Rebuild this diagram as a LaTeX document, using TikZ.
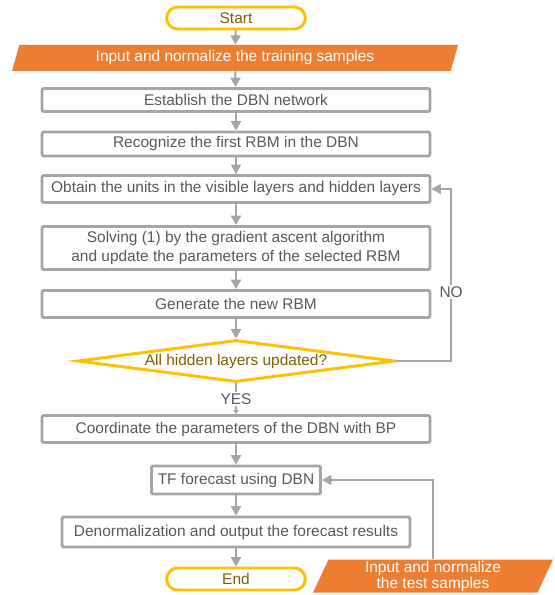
\documentclass[tikz,border=0pt]{standalone}
\usepackage{fontspec}
\setmainfont{Liberation Sans}
\usetikzlibrary{shapes.geometric,shapes.misc,arrows.meta}
\definecolor{linegray}{HTML}{A5A5A5}
\definecolor{textgray}{HTML}{595959}
\definecolor{ioorange}{HTML}{ED7D31}
\definecolor{termgold}{HTML}{FFC000}
\definecolor{textgold}{HTML}{7F6000}
\begin{document}
\begin{tikzpicture}[x=0.75pt, y=-0.75pt, font=\fontsize{11.6}{14}\selectfont]
	\tikzstyle{term}=[rounded rectangle, draw=termgold, line width=2.2pt, fill=white, text=textgold, minimum width=104pt, minimum height=16.5pt, inner sep=0pt]
	\tikzstyle{process}=[rectangle, rounded corners=1.5pt, draw=linegray, line width=2.2pt, fill=white, text=textgray, minimum width=291pt, inner sep=0pt, align=center]
	\tikzstyle{io}=[trapezium, trapezium left angle=63, trapezium right angle=117, trapezium stretches body, fill=ioorange, text=white, inner sep=0pt, align=center]
	\tikzstyle{decision}=[diamond, aspect=7.5, draw=termgold, line width=2.2pt, fill=white, text=textgold, minimum width=238pt, minimum height=31.5pt, inner sep=0pt]
	\tikzstyle{flow}=[draw=linegray, line width=1.5pt, -{Triangle[length=7pt, width=7.5pt]}]
	\tikzstyle{loop}=[draw=linegray, line width=1pt, -{Triangle[length=7pt, width=7.5pt]}]
	\useasboundingbox (0,0) rectangle (554,595);
	% Start
	\node at (236, 18) [term] (start) {Start};
	% Training input
	\node at (235, 58) [io, minimum width=334.5pt, minimum height=19.5pt] (input) {Input and normalize the training samples};
	% Pre-training
	\node at (236, 100) [process, minimum height=17.25pt] (establish) {Establish the DBN network};
	\node at (236, 144) [process, minimum height=18pt] (recognize) {Recognize the first RBM in the DBN};
	\node at (236, 189) [process, minimum height=20.25pt] (obtain) {Obtain the units in the visible layers and hidden layers};
	\node at (236, 248) [process, minimum height=32.25pt] (solving) {Solving (1) by the gradient ascent algorithm\\and update the parameters of the selected RBM};
	\node at (236, 304) [process, minimum height=20.25pt] (generate) {Generate the new RBM};
	\node at (236, 361) [decision] (updated) {All hidden layers updated?};
	% Fine-tuning and forecast
	\node at (236, 429) [process, minimum height=20.25pt] (coordinate) {Coordinate the parameters of the DBN with BP};
	\node at (236, 480) [process, minimum width=126.75pt, minimum height=21pt] (forecast) {TF forecast using DBN};
	\node at (236, 532) [process, minimum width=261pt, minimum height=22.5pt] (denorm) {Denormalization and output the forecast results};
	% End
	\node at (236, 579) [term] (end) {End};
	% Test input
	\node at (433, 576) [io, minimum width=180pt, minimum height=24.75pt, font=\fontsize{11.6}{12}\selectfont] (test) {Input and normalize\\the test samples};
	%---------------------%
	\foreach \a/\b in {start/input, input/establish, establish/recognize, recognize/obtain, obtain/solving, solving/generate, generate/updated, coordinate/forecast, forecast/denorm, denorm/end}
		\draw [flow] (\a) to (\b);
	% YES / NO
	\draw [loop, -{Triangle[length=3pt, width=4pt]}] (updated) to node [fill=white, text=textgray, inner sep=1pt] {YES} (coordinate);
	\draw [loop] (updated.east) -- ++(55,0) |- node [pos=0.2, fill=white, text=textgray, inner sep=1pt] {NO} (obtain.east);
	% Test samples -> forecast
	\draw [loop] (test.north) |- (forecast.east);
\end{tikzpicture}
\end{document}
